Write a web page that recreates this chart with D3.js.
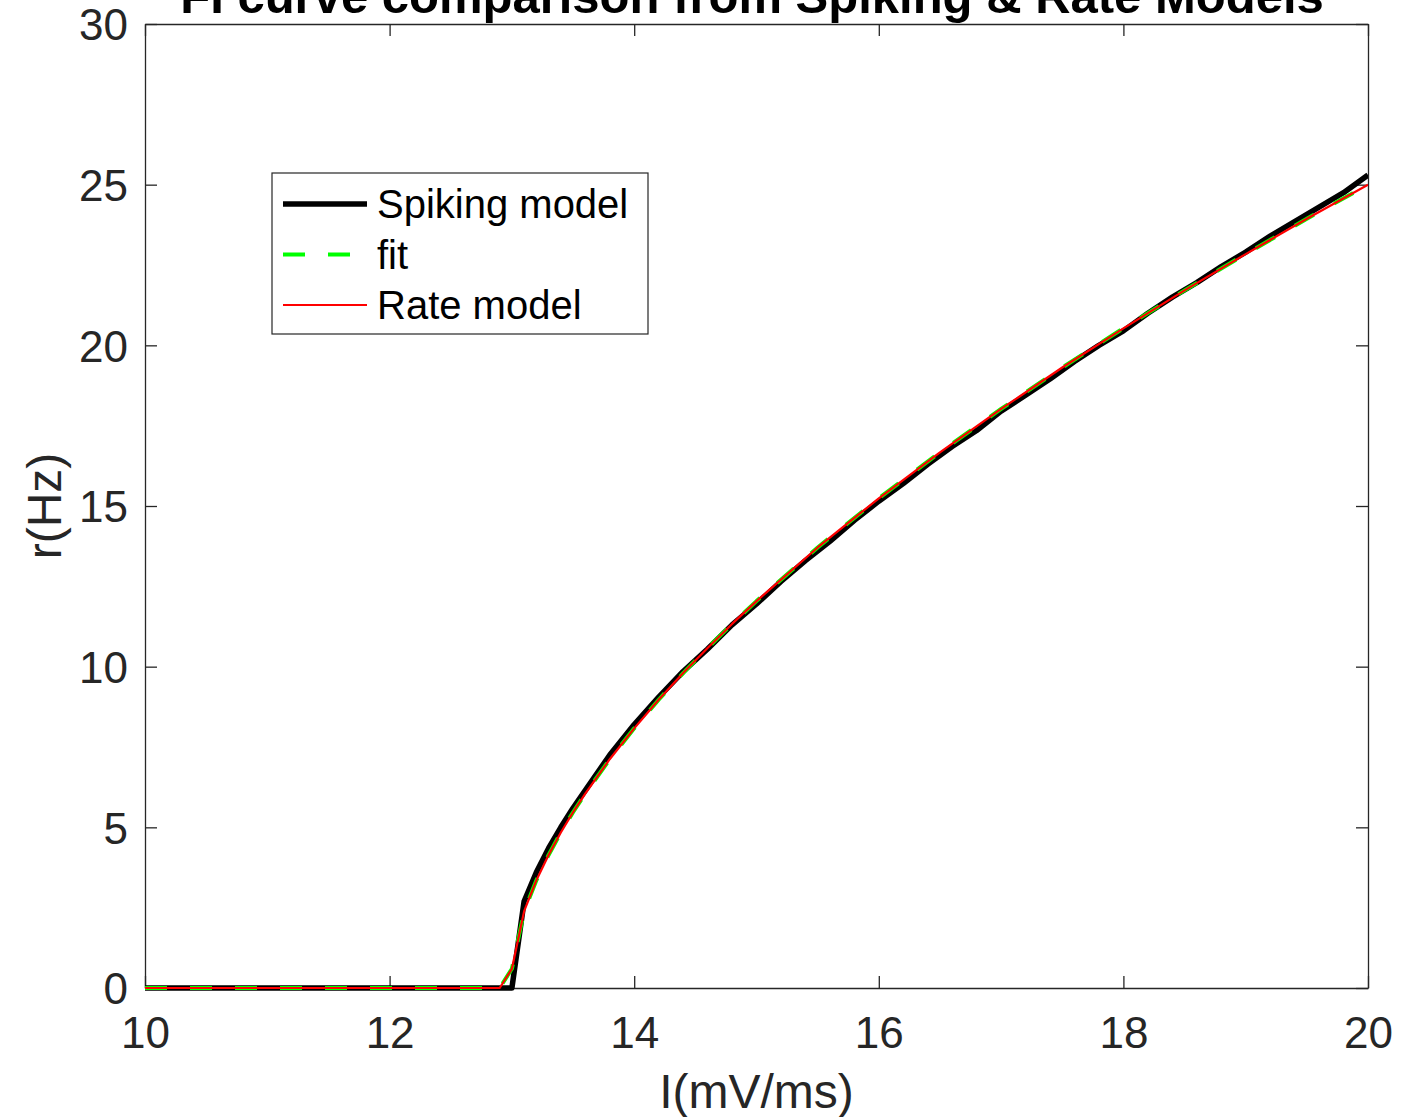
<!DOCTYPE html>
<html>
<head>
<meta charset="utf-8">
<script src="https://cdn.jsdelivr.net/npm/d3@7"></script>
<style>
  body { margin: 0; background: #fff; }
  svg { display: block; font-family: "Liberation Sans", Arial, Helvetica, sans-serif; }
</style>
</head>
<body>
<svg id="chart" width="1418" height="1117"></svg>
<script>
// FI curve data
const iSpike = [10, 12.9, 13.0, 13.1, 13.2, 13.3, 13.4, 13.5, 13.6, 13.8, 14.0, 14.2, 14.4, 14.6, 14.8,
  15.0, 15.2, 15.4, 15.6, 15.8, 16.0, 16.2, 16.4, 16.6, 16.8, 17.0, 17.2, 17.4, 17.6, 17.8,
  18.0, 18.2, 18.4, 18.6, 18.8, 19.0, 19.2, 19.4, 19.6, 19.8, 20.0];
const rSpike = [0, 0, 0, 2.7, 3.6, 4.35, 5.0, 5.6, 6.15, 7.25, 8.2, 9.05, 9.85, 10.55, 11.3,
  11.95, 12.65, 13.3, 13.9, 14.55, 15.15, 15.7, 16.3, 16.85, 17.35, 17.95, 18.45, 18.95, 19.5, 20.0,
  20.45, 21.0, 21.5, 21.95, 22.45, 22.9, 23.4, 23.85, 24.3, 24.75, 25.3];

const iRate = [10, 12.9, 13.0, 13.1, 13.2, 13.3, 13.4, 13.5, 13.6, 13.8, 14.0, 14.2, 14.4, 14.6, 14.8,
  15.0, 15.5, 16.0, 16.5, 17.0, 17.5, 18.0, 18.5, 19.0, 19.5, 20.0];
const rFit = [0, 0, 0.6, 2.39, 3.35, 4.14, 4.84, 5.47, 6.05, 7.12, 8.08, 8.97, 9.80, 10.58, 11.33,
  12.04, 13.71, 15.24, 16.67, 18.02, 19.31, 20.53, 21.71, 22.84, 23.94, 25.0];
const rRate = [0, 0, 0.6, 2.39, 3.35, 4.14, 4.84, 5.47, 6.05, 7.12, 8.08, 8.97, 9.80, 10.58, 11.33,
  12.04, 13.71, 15.24, 16.67, 18.02, 19.31, 20.53, 21.71, 22.84, 23.94, 25.0];

const xTicks = [10, 12, 14, 16, 18, 20];
const yTicks = [0, 5, 10, 15, 20, 25, 30];
const legendNames = ['Spiking model', 'fit', 'Rate model'];

const svg = d3.select('#chart');
const plotL = 145, plotR = 1368, plotT = 24, plotB = 988;
const axisColor = '#262626';

const x = d3.scaleLinear().domain([10, 20]).range([plotL, plotR]);
const y = d3.scaleLinear().domain([0, 30]).range([plotB, plotT]);

svg.append('defs').append('clipPath').attr('id', 'plotClip')
  .append('rect').attr('x', plotL).attr('y', plotT - 3).attr('width', plotR - plotL).attr('height', plotB - plotT + 6);

// axes: inward ticks on all four sides
function styleAxis(g) {
  g.selectAll('path, line').attr('stroke', axisColor).attr('stroke-width', 1.3);
  g.selectAll('text').attr('fill', axisColor).attr('font-size', 44);
  g.attr('font-family', null).attr('font-size', null);
}

svg.append('g').attr('transform', `translate(0,${plotB})`)
  .call(d3.axisBottom(x).tickValues(xTicks).tickSize(-12).tickSizeOuter(0).tickPadding(29))
  .call(styleAxis);
svg.append('g').attr('transform', `translate(0,${plotT})`)
  .call(d3.axisTop(x).tickValues(xTicks).tickSize(-12).tickSizeOuter(0).tickFormat(''))
  .call(styleAxis);
svg.append('g').attr('transform', `translate(${plotL},0)`)
  .call(d3.axisLeft(y).tickValues(yTicks).tickSize(-12).tickSizeOuter(0).tickPadding(17))
  .call(styleAxis)
  .call(g => g.selectAll('text').attr('dy', '0.36em'));
svg.append('g').attr('transform', `translate(${plotR},0)`)
  .call(d3.axisRight(y).tickValues(yTicks).tickSize(-12).tickSizeOuter(0).tickFormat(''))
  .call(styleAxis);

// curves
const line = d3.line().x(d => x(d[0])).y(d => y(d[1]));
const plot = svg.append('g').attr('clip-path', 'url(#plotClip)');

const series = [
  { pts: d3.zip(iSpike, rSpike), color: '#000000', width: 5.5, dash: null },
  { pts: d3.zip(iRate, rFit), color: '#00ff00', width: 4, dash: '22,23' },
  { pts: d3.zip(iRate, rRate), color: '#ff0000', width: 2.2, dash: null }
];

series.forEach(s => {
  plot.append('path')
    .datum(s.pts)
    .attr('d', line)
    .attr('fill', 'none')
    .attr('stroke', s.color)
    .attr('stroke-width', s.width)
    .attr('stroke-dasharray', s.dash)
    .attr('stroke-linejoin', 'round');
});

// legend
const legend = svg.append('g');
legend.append('rect')
  .attr('x', 272).attr('y', 173).attr('width', 376).attr('height', 161)
  .attr('fill', '#fff').attr('stroke', axisColor).attr('stroke-width', 1.2);

legendNames.forEach((name, i) => {
  const ly = 204 + i * 50.5;
  const s = series[i];
  legend.append('line')
    .attr('x1', 283).attr('x2', 367).attr('y1', ly).attr('y2', ly)
    .attr('stroke', s.color).attr('stroke-width', s.width)
    .attr('stroke-dasharray', s.dash);
  legend.append('text')
    .attr('x', 377).attr('y', ly + 14)
    .attr('font-size', 40).attr('fill', '#000')
    .text(name);
});

// labels
svg.append('text')
  .attr('x', (plotL + plotR) / 2).attr('y', 1108)
  .attr('text-anchor', 'middle').attr('font-size', 48).attr('fill', axisColor)
  .text('I(mV/ms)');

svg.append('text')
  .attr('transform', `translate(61,${(plotT + plotB) / 2}) rotate(-90)`)
  .attr('text-anchor', 'middle').attr('font-size', 48).attr('fill', axisColor)
  .text('r(Hz)');

// the title sits partly above the top edge, as in the source figure
svg.append('text')
  .attr('x', 752).attr('y', 13)
  .attr('text-anchor', 'middle').attr('font-size', 49).attr('font-weight', 'bold').attr('fill', '#000')
  .text('FI curve comparison from Spiking & Rate Models');
</script>
</body>
</html>
